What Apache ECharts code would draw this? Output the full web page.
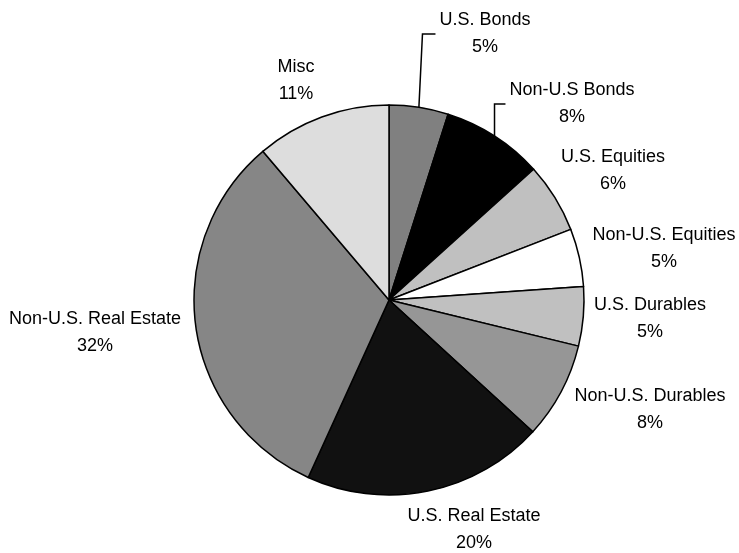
<!DOCTYPE html>
<html>
<head>
<meta charset="utf-8">
<script src="https://cdn.jsdelivr.net/npm/echarts@6/dist/echarts.min.js"></script>
<style>
html,body{margin:0;padding:0;background:#fff;}
#chart{width:739px;height:553px;}
</style>
</head>
<body>
<div id="chart"></div>
<script>
// Data
var categories = ['U.S. Bonds', 'Non-U.S Bonds', 'U.S. Equities', 'Non-U.S. Equities', 'U.S. Durables', 'Non-U.S. Durables', 'U.S. Real Estate', 'Non-U.S. Real Estate', 'Misc'];
var values = [4.9, 8.4, 5.8, 4.8, 4.9, 8.0, 20.0, 32.0, 11.2];

// Styles
var colors = ['#808080', '#000000', '#c0c0c0', '#ffffff', '#c0c0c0', '#969696', '#111111', '#868686', '#dddddd'];
var leader = [true, true, false, false, false, false, false, false, false];
// label centre positions (px)
var labelPos = [[485, 34], [572, 104], [613, 171], [664, 249], [650, 319], [650, 410], [474, 530], [95, 333], [296, 81]];

var chart = echarts.init(document.getElementById('chart'), null, {renderer: 'canvas'});
var data = categories.map(function (c, i) {
  return {
    name: c,
    value: values[i],
    itemStyle: {color: colors[i]},
    labelLine: {show: leader[i]}
  };
});
chart.setOption({
  animation: false,
  backgroundColor: '#ffffff',
  series: [{
    type: 'pie',
    center: [389, 300],
    radius: 195,
    startAngle: 90,
    clockwise: true,
    data: data,
    itemStyle: {borderColor: '#000', borderWidth: 1.5},
    label: {
      show: true,
      position: 'outside',
      overflow: 'none',
      formatter: function (p) { return p.name + '\n' + Math.round(p.percent) + '%'; },
      fontFamily: 'Liberation Sans, Arial, sans-serif',
      fontSize: 18,
      lineHeight: 27,
      color: '#000',
      align: 'center',
      padding: [0, 4]
    },
    labelLine: {lineStyle: {color: '#000', width: 1.5}, length: 10, length2: 13},
    labelLayout: function (params) {
      var p = labelPos[params.dataIndex];
      return {x: p[0], y: p[1], align: 'center', verticalAlign: 'middle'};
    },
    emphasis: {disabled: true}
  }]
});
</script>
</body>
</html>
